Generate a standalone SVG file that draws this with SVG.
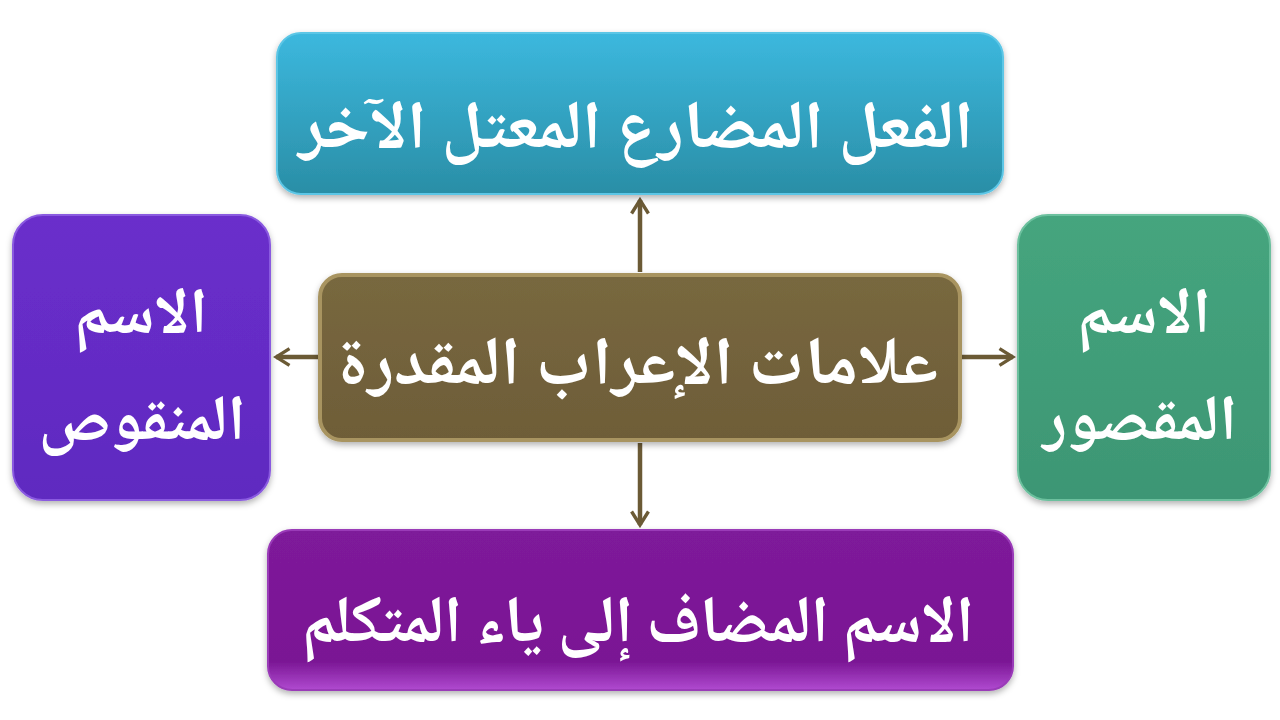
<svg xmlns="http://www.w3.org/2000/svg" width="1280" height="720" viewBox="0 0 1280 720">
<style>
.lbl{font-family:"Noto Naskh Arabic","DejaVu Sans",sans-serif;fill:#ffffff;text-anchor:middle;font-weight:bold}
.conn{stroke:#6b5a35;stroke-width:4.5;fill:none}
</style>
<defs>
<linearGradient id="gTop" x1="0" y1="0" x2="0" y2="1"><stop offset="0" stop-color="#3cb8de"/><stop offset="1" stop-color="#2a8ea6"/></linearGradient>
<linearGradient id="gLeft" x1="0" y1="0" x2="0" y2="1"><stop offset="0" stop-color="#6a2ecb"/><stop offset="1" stop-color="#5f2ac0"/></linearGradient>
<linearGradient id="gRight" x1="0" y1="0" x2="0" y2="1"><stop offset="0" stop-color="#45a57e"/><stop offset="1" stop-color="#3d9674"/></linearGradient>
<linearGradient id="gCenter" x1="0" y1="0" x2="0" y2="1"><stop offset="0" stop-color="#78683f"/><stop offset="1" stop-color="#6e5d38"/></linearGradient>
<linearGradient id="gBottom" x1="0" y1="0" x2="0" y2="1"><stop offset="0" stop-color="#7e1a9a"/><stop offset="0.82" stop-color="#7a1694"/><stop offset="1" stop-color="#b04ad0"/></linearGradient>
<filter id="sh" x="-10%" y="-10%" width="120%" height="130%"><feDropShadow dx="0" dy="3" stdDeviation="3" flood-color="#000" flood-opacity="0.3"/></filter>
<marker id="ah" viewBox="0 0 12 12" refX="10" refY="6" markerWidth="4.5" markerHeight="4.5" orient="auto" markerUnits="strokeWidth"><path d="M2,1 L10,6 L2,11" fill="none" stroke="#6b5a35" stroke-width="2"/></marker>
</defs>
<rect width="1280" height="720" fill="#ffffff"/>
<g id="connectors">
<line class="conn" x1="640" y1="272" x2="640" y2="200" marker-end="url(#ah)"/>
<line class="conn" x1="640" y1="443" x2="640" y2="525" marker-end="url(#ah)"/>
<line class="conn" x1="318" y1="357" x2="276" y2="357" marker-end="url(#ah)"/>
<line class="conn" x1="962" y1="357" x2="1013" y2="357" marker-end="url(#ah)"/>
</g>
<g id="node-top">
<rect x="277" y="33" width="726" height="161" rx="24" fill="url(#gTop)" stroke="#5cc6e6" stroke-width="2" filter="url(#sh)"/>
<text class="lbl" x="636" y="148" font-size="68" textLength="675" lengthAdjust="spacingAndGlyphs">الفعل المضارع المعتل الآخر</text>
</g>
<g id="node-left">
<rect x="13" y="215" width="257" height="285" rx="30" fill="url(#gLeft)" stroke="#8a5ae0" stroke-width="2" filter="url(#sh)"/>
<text class="lbl" x="141" y="333" font-size="64">الاسم</text>
<text class="lbl" x="142" y="440" font-size="64">المنقوص</text>
</g>
<g id="node-right">
<rect x="1018" y="215" width="252" height="285" rx="30" fill="url(#gRight)" stroke="#6cc09e" stroke-width="2" filter="url(#sh)"/>
<text class="lbl" x="1144" y="333" font-size="64">الاسم</text>
<text class="lbl" x="1140" y="440" font-size="64">المقصور</text>
</g>
<g id="node-center">
<rect x="320" y="275" width="640" height="165" rx="22" fill="url(#gCenter)" stroke="#a89460" stroke-width="4" filter="url(#sh)"/>
<text class="lbl" x="638" y="384" font-size="68" textLength="600" lengthAdjust="spacingAndGlyphs">علامات الإعراب المقدرة</text>
</g>
<g id="node-bottom">
<rect x="268" y="530" width="745" height="160" rx="24" fill="url(#gBottom)" stroke="#9a3ab8" stroke-width="2" filter="url(#sh)"/>
<text class="lbl" x="638" y="642" font-size="66" textLength="672" lengthAdjust="spacingAndGlyphs">الاسم المضاف إلى ياء المتكلم</text>
</g>
</svg>
